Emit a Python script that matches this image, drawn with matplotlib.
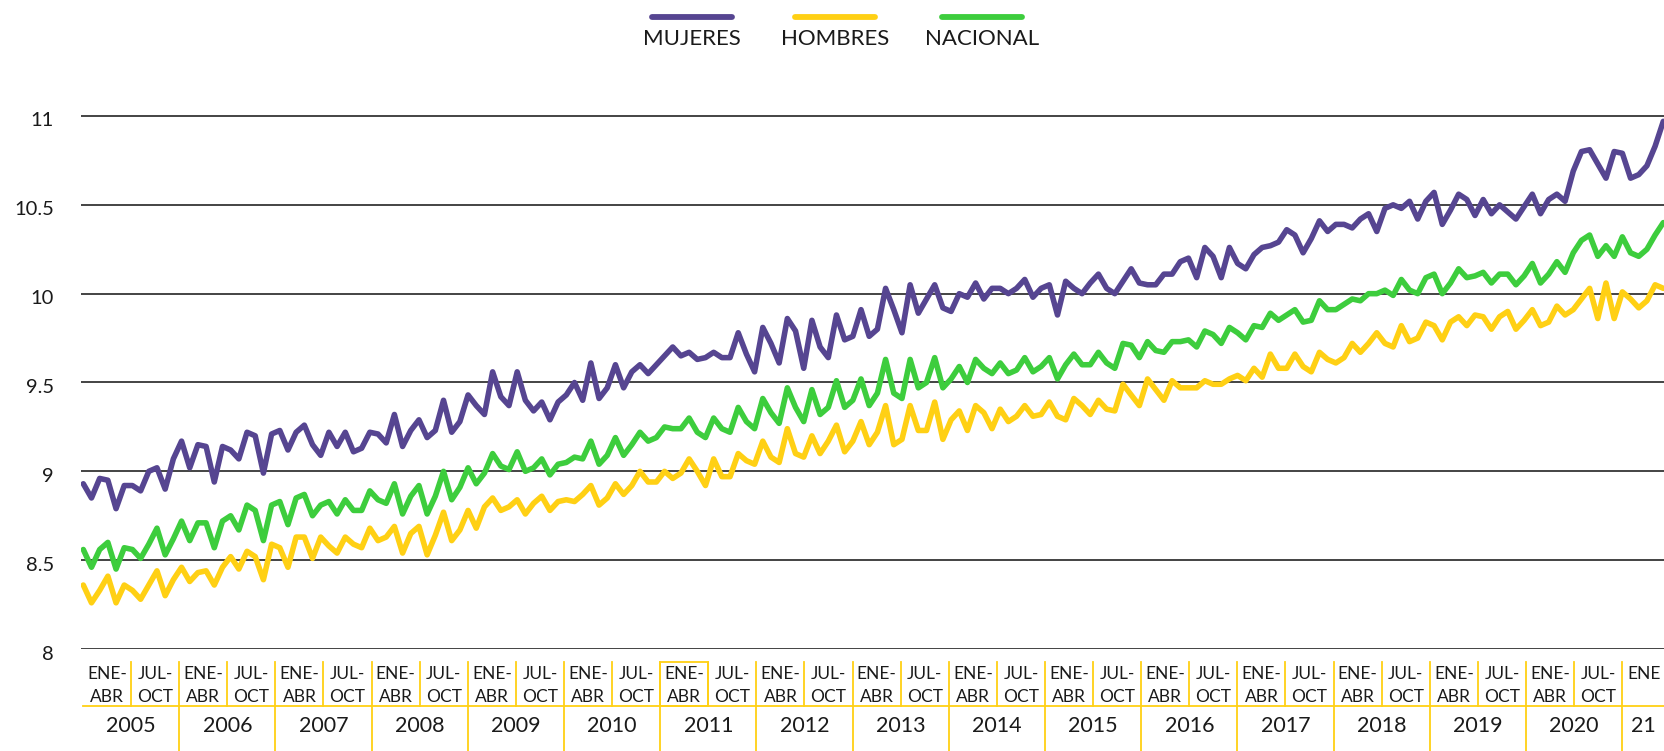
import numpy as np
import matplotlib
matplotlib.use("Agg")
import matplotlib.pyplot as plt
from matplotlib.lines import Line2D
from matplotlib.patches import Rectangle
from matplotlib.transforms import ScaledTranslation

plt.rcParams["font.family"] = ["Lato", "DejaVu Sans"]

# monthly values, Jan 2005 onwards
mujeres = [
    8.93, 8.85, 8.96, 8.95, 8.79, 8.92, 8.92, 8.89, 9.00, 9.02, 8.90, 9.07,
    9.17, 9.02, 9.15, 9.14, 8.94, 9.14, 9.12, 9.07, 9.22, 9.20, 8.99, 9.21,
    9.23, 9.12, 9.22, 9.26, 9.15, 9.09, 9.22, 9.14, 9.22, 9.11,
    9.13, 9.22, 9.21, 9.16, 9.32, 9.14, 9.23, 9.29, 9.19, 9.23, 9.40, 9.22,
    9.28, 9.43, 9.37, 9.32, 9.56, 9.42, 9.37, 9.56, 9.40, 9.34, 9.39, 9.29,
    9.39, 9.43, 9.50, 9.40, 9.61, 9.41, 9.47, 9.60, 9.47, 9.56, 9.60,
    9.55, 9.60, 9.65, 9.70, 9.65, 9.67, 9.63, 9.64, 9.67, 9.64, 9.64, 9.78,
    9.66, 9.56, 9.81, 9.72, 9.61, 9.86, 9.79, 9.58, 9.85, 9.70, 9.64, 9.88,
    9.74, 9.76, 9.91, 9.76, 9.80, 10.03, 9.91,
    9.78, 10.05, 9.89, 9.97, 10.05, 9.92, 9.90, 10.00, 9.98, 10.06, 9.97, 10.03,
    10.03, 10.00, 10.03, 10.08, 9.98, 10.03, 10.05, 9.88, 10.07, 10.03, 10.00, 10.06,
    10.11, 10.03, 10.00, 10.07, 10.14, 10.06, 10.05, 10.05, 10.11, 10.11,
    10.18, 10.20, 10.09, 10.26, 10.21, 10.09, 10.26, 10.17, 10.14, 10.22, 10.26, 10.27,
    10.29, 10.36, 10.33, 10.23, 10.31, 10.41, 10.35, 10.39, 10.39, 10.37, 10.42, 10.45,
    10.35, 10.48, 10.50, 10.48, 10.52, 10.42, 10.52, 10.57, 10.39, 10.47,
    10.56, 10.53, 10.44, 10.53, 10.45, 10.50, 10.46, 10.42, 10.49, 10.56, 10.45, 10.53,
    10.56, 10.52, 10.69, 10.80, 10.81, 10.73, 10.65, 10.80, 10.79, 10.65, 10.67, 10.72,
    10.83, 10.97,
]
hombres = [
    8.36, 8.26, 8.33, 8.41, 8.26, 8.36, 8.33, 8.28, 8.36, 8.44, 8.30, 8.39,
    8.46, 8.38, 8.43, 8.44, 8.36, 8.46, 8.52, 8.45, 8.55, 8.52, 8.39, 8.59,
    8.57, 8.46, 8.63, 8.63, 8.51, 8.63, 8.58, 8.54, 8.63, 8.59,
    8.57, 8.68, 8.61, 8.63, 8.69, 8.54, 8.65, 8.69, 8.53, 8.64, 8.77, 8.61,
    8.67, 8.78, 8.68, 8.80, 8.85, 8.78, 8.80, 8.84, 8.76, 8.82, 8.86, 8.78,
    8.83, 8.84, 8.83, 8.87, 8.92, 8.81, 8.85, 8.93, 8.87, 8.92, 9.00,
    8.94, 8.94, 9.00, 8.96, 8.99, 9.07, 9.00, 8.92, 9.07, 8.97, 8.97, 9.10,
    9.06, 9.04, 9.17, 9.08, 9.05, 9.24, 9.10, 9.08, 9.20, 9.10, 9.17, 9.26,
    9.11, 9.17, 9.28, 9.15, 9.22, 9.37, 9.15,
    9.18, 9.37, 9.23, 9.23, 9.39, 9.18, 9.29, 9.34, 9.23, 9.37, 9.33, 9.24,
    9.35, 9.28, 9.31, 9.37, 9.31, 9.32, 9.39, 9.31, 9.29, 9.41, 9.37, 9.32,
    9.40, 9.35, 9.34, 9.49, 9.43, 9.37, 9.52, 9.46, 9.40, 9.51,
    9.47, 9.47, 9.47, 9.51, 9.49, 9.49, 9.52, 9.54, 9.51, 9.58, 9.53, 9.66,
    9.58, 9.58, 9.66, 9.59, 9.56, 9.67, 9.63, 9.61, 9.64, 9.72, 9.67, 9.72,
    9.78, 9.72, 9.70, 9.82, 9.73, 9.75, 9.84, 9.82, 9.74, 9.84,
    9.87, 9.82, 9.88, 9.87, 9.80, 9.87, 9.90, 9.80, 9.85, 9.91, 9.82, 9.84,
    9.93, 9.88, 9.91, 9.97, 10.03, 9.86, 10.06, 9.86, 10.01, 9.97, 9.92, 9.96,
    10.05, 10.03,
]
nacional = [
    8.56, 8.46, 8.56, 8.60, 8.45, 8.57, 8.56, 8.51, 8.59, 8.68, 8.53, 8.62,
    8.72, 8.61, 8.71, 8.71, 8.57, 8.72, 8.75, 8.67, 8.81, 8.78, 8.61, 8.81,
    8.83, 8.70, 8.85, 8.87, 8.75, 8.81, 8.83, 8.76, 8.84, 8.78,
    8.78, 8.89, 8.84, 8.82, 8.93, 8.76, 8.86, 8.92, 8.76, 8.86, 9.00, 8.84,
    8.91, 9.02, 8.93, 8.99, 9.10, 9.03, 9.01, 9.11, 9.00, 9.02, 9.07, 8.98,
    9.04, 9.05, 9.08, 9.07, 9.17, 9.04, 9.09, 9.19, 9.09, 9.15, 9.22,
    9.17, 9.19, 9.25, 9.24, 9.24, 9.30, 9.22, 9.19, 9.30, 9.24, 9.22, 9.36,
    9.28, 9.24, 9.41, 9.33, 9.27, 9.47, 9.36, 9.28, 9.46, 9.32, 9.36, 9.51,
    9.36, 9.40, 9.52, 9.37, 9.44, 9.63, 9.44,
    9.41, 9.63, 9.47, 9.50, 9.64, 9.47, 9.52, 9.59, 9.50, 9.63, 9.58, 9.55,
    9.61, 9.55, 9.57, 9.64, 9.56, 9.59, 9.64, 9.52, 9.60, 9.66, 9.60, 9.60,
    9.67, 9.61, 9.58, 9.72, 9.71, 9.64, 9.73, 9.68, 9.67, 9.73,
    9.73, 9.74, 9.70, 9.79, 9.77, 9.72, 9.81, 9.78, 9.74, 9.82, 9.81, 9.89,
    9.85, 9.88, 9.91, 9.84, 9.85, 9.96, 9.91, 9.91, 9.94, 9.97, 9.96, 10.00,
    10.00, 10.02, 9.99, 10.08, 10.02, 10.00, 10.09, 10.11, 10.00, 10.06,
    10.14, 10.09, 10.10, 10.12, 10.06, 10.11, 10.11, 10.05, 10.10, 10.17, 10.06, 10.11,
    10.18, 10.12, 10.23, 10.30, 10.33, 10.21, 10.27, 10.21, 10.32, 10.23, 10.21, 10.25,
    10.33, 10.40,
]

series_labels = ["MUJERES", "HOMBRES", "NACIONAL"]
y_ticks = [8, 8.5, 9, 9.5, 10, 10.5, 11]
y_tick_labels = ["8", "8.5", "9", "9.5", "10", "10.5", "11"]
years = [str(y) for y in range(2005, 2021)]
last_year = "21"
half_labels = [("ENE-", "ABR"), ("JUL-", "OCT")]
last_half = "ENE"

PURPLE = "#564591"
YELLOW = "#FFD014"
GREEN = "#3DCD3D"
TEXT = "#1a1a1a"

W, H = 1665, 751
fig = plt.figure(figsize=(W / 100, H / 100), dpi=100)


def px_box(left, top, right, bottom):
    """Figure-fraction rect from pixel edges measured from the top-left."""
    return [left / W, 1 - bottom / H, (right - left) / W, (bottom - top) / H]


# main plot ------------------------------------------------------------------
y_lo, y_hi = 8, 11.06
y8_px, y11_px = 649, 116
ppu = (y8_px - y11_px) / 3
ax = fig.add_axes(px_box(81, y11_px - (y_hi - 11) * ppu, W, y8_px))

n = len(mujeres)
x = np.arange(n)
step = (1663.3 - 83.3) / (n - 1)
ax.set_xlim(-(83.3 - 81) / step, n - 1 + (W - 1663.3) / step)
ax.set_ylim(y_lo, y_hi)

for vals, col in [(hombres, YELLOW), (nacional, GREEN), (mujeres, PURPLE)]:
    ax.plot(x, vals, color=col, lw=4.0, solid_joinstyle="round",
            solid_capstyle="round", zorder=3)

for yv in y_ticks:
    ax.axhline(yv, color="#111111", lw=1.1, zorder=1)
for s in ax.spines.values():
    s.set_visible(False)
ax.set_xticks([])
ax.set_yticks([])

lab_tr = ax.get_yaxis_transform() + ScaledTranslation(-27 / 100, -5 / 100, fig.dpi_scale_trans)
for yv, lbl in zip(y_ticks, y_tick_labels):
    ax.text(0, yv, lbl, transform=lab_tr, ha="right", va="center",
            fontsize=14.5, color=TEXT)

# category table under the plot ---------------------------------------------
year_px = 96.2
cat = fig.add_axes(px_box(83, 649, W, H))
cat.set_xlim(0, (W - 83) / year_px)
cat.set_ylim(0, 102)
cat.axis("off")

kw = dict(color=YELLOW, lw=1.3, clip_on=False)
cat.plot([0, (W - 83) / year_px], [45, 45], **kw)
for k in range(1, len(years) + 1):
    cat.plot([k, k], [0, 89], **kw)
for k in range(len(years)):
    cat.plot([k + 0.5, k + 0.5], [45, 89], **kw)
    cat.text(k + 0.5, 25, years[k], ha="center", va="center", fontsize=15.5, color=TEXT)
    for j, (top, bot) in enumerate(half_labels):
        cx = k + 0.25 + 0.5 * j
        cat.text(cx, 77, top, ha="center", va="center", fontsize=12.5, color=TEXT)
        cat.text(cx, 54, bot, ha="center", va="center", fontsize=12.5, color=TEXT)
last_cx = len(years) + (W - 83 - len(years) * year_px) / year_px / 2
cat.text(last_cx, 77, last_half, ha="center", va="center", fontsize=12.5, color=TEXT)
cat.text(last_cx, 25, last_year, ha="center", va="center", fontsize=15.5, color=TEXT)
# highlighted cell (ENE-ABR 2011)
cat.add_patch(Rectangle((6, 45), 0.5, 44, fill=False, edgecolor=YELLOW, lw=1.3))

# legend ---------------------------------------------------------------------
for cx, col, lbl in zip([692, 835, 982], [PURPLE, YELLOW, GREEN], series_labels):
    fig.add_artist(Line2D([(cx - 40) / W, (cx + 40) / W], [1 - 17 / H, 1 - 17 / H],
                          color=col, lw=4.2, solid_capstyle="round"))
    fig.text(cx / W, 1 - 39 / H, lbl, ha="center", va="center", fontsize=16, color=TEXT)

fig.savefig("out.png", dpi=100)
